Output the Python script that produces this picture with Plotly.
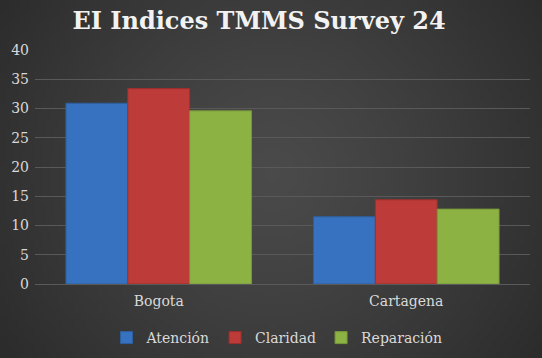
import base64, struct, zlib, math
import plotly.graph_objects as go

categories = ["Bogota", "Cartagena"]
atencion = [30.9, 11.5]
claridad = [33.4, 14.4]
reparacion = [29.6, 12.8]
series_names = ["Atención", "Claridad", "Reparación"]
series_colors = ["#3672c0", "#bd3b38", "#8cb244"]
line_colors = ["#2d5f9e", "#9e2f2d", "#78983a"]

W, H = 542, 358
L, R, T, B = 35, 12, 50, 74

def make_bg(w=136, h=90):
    rows = []
    cx, cy = w / 2, h * 0.48
    maxd = math.hypot(cx, cy)
    for j in range(h):
        row = bytearray([0])
        for i in range(w):
            d = math.hypot((i - cx), (j - cy) * 1.0) / maxd
            v = int(round(74 - (74 - 44) * min(d, 1.0) ** 1.2))
            row += bytes([v, v, v])
        rows.append(bytes(row))
    raw = b"".join(rows)
    def chunk(t, data):
        c = struct.pack(">I", len(data)) + t + data
        return c + struct.pack(">I", zlib.crc32(t + data) & 0xffffffff)
    png = b"\x89PNG\r\n\x1a\n" + chunk(b"IHDR", struct.pack(">IIBBBBB", w, h, 8, 2, 0, 0, 0))
    png += chunk(b"IDAT", zlib.compress(raw, 9)) + chunk(b"IEND", b"")
    return "data:image/png;base64," + base64.b64encode(png).decode()

font = "DejaVu Serif"
fig = go.Figure()
for name, vals, col, lc in zip(series_names, [atencion, claridad, reparacion], series_colors, line_colors):
    fig.add_trace(go.Bar(x=categories, y=vals, name=name, marker=dict(color=col, line=dict(color=lc, width=1))))

pw, ph = W - L - R, H - T - B
fig.update_layout(
    width=W, height=H,
    margin=dict(l=L, r=R, t=T, b=B),
    paper_bgcolor="#3a3a3a", plot_bgcolor="rgba(0,0,0,0)",
    images=[dict(source=make_bg(), xref="paper", yref="paper", x=-L / pw, y=1 + T / ph,
                 sizex=W / pw, sizey=H / ph, sizing="stretch", layer="below", xanchor="left", yanchor="top")],
    title=dict(text="<b>EI Indices TMMS Survey 24</b>", x=259 / W, xref="container", xanchor="center",
               y=1 - 21 / H, yref="container", yanchor="middle",
               font=dict(family=font, size=24, color="#f2f2f2")),
    barmode="group", bargap=0.25, bargroupgap=0,
    font=dict(family=font, size=14, color="#d9d9d9"),
    xaxis=dict(showgrid=False, showline=True, linecolor="#5a5a5a", linewidth=1, ticks="",
               ticklabelstandoff=4, tickfont=dict(size=14, color="#d9d9d9")),
    yaxis=dict(range=[0, 40], dtick=5, showgrid=True, gridcolor="#595959", gridwidth=1,
               zeroline=False, showline=False, ticks="", ticklabelstandoff=5,
               tickfont=dict(size=14, color="#d9d9d9")),
    legend=dict(orientation="h", x=277 / W, xanchor="center", xref="container",
                y=1 - 338 / H, yref="container", yanchor="middle",
                font=dict(size=14, color="#d9d9d9"), itemwidth=30, tracegroupgap=0,
                bgcolor="rgba(0,0,0,0)"),
    showlegend=True,
)
fig.write_html("out.html", config={"displayModeBar": False},
               post_script="document.body.style.margin='0';document.body.style.overflow='hidden';")
